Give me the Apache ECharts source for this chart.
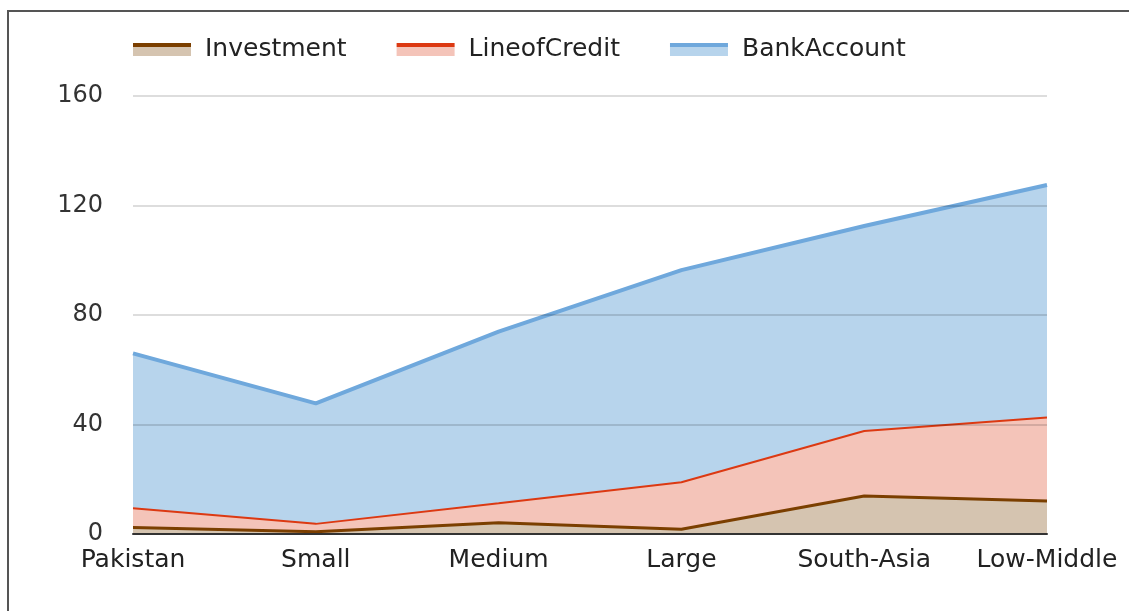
<!DOCTYPE html>
<html>
<head>
<meta charset="utf-8">
<script src="https://cdn.jsdelivr.net/npm/echarts@6/dist/echarts.min.js"></script>
<style>
  html, body { margin: 0; padding: 0; background: #fff; }
  #chart { width: 1129px; height: 611px; }
  /* frame visible at the top and left of the picture */
  .frame {
    position: absolute; left: 7px; top: 10px; width: 1200px; height: 700px;
    border-top: 2px solid #555; border-left: 2px solid #555; pointer-events: none;
  }
</style>
</head>
<body>
<div id="chart"></div>
<div class="frame"></div>
<script>
// categories and stacked values (each layer's own amount)
const categories = ['Pakistan', 'Small', 'Medium', 'Large', 'South-Asia', 'Low-Middle'];
const investment = [2.4, 0.8, 4.1, 1.7, 13.9, 12.1];
const lineOfCredit = [7.0, 2.9, 7.1, 17.2, 23.7, 30.5];
const bankAccount = [56.6, 44.0, 62.7, 77.5, 74.9, 84.9];
const yTicks = [0, 40, 80, 120, 160];

const lineColors = ['#7b3f00', '#dc3912', '#6fa8dc'];
const fillColors = ['#d5c4b0', '#f4c4b9', '#b7d4ec'];
const lineWidths = [3, 2, 4];
const names = ['Investment', 'LineofCredit', 'BankAccount'];
const values = [investment, lineOfCredit, bankAccount];

const font = 'DejaVu Sans, Arial';

const chart = echarts.init(document.getElementById('chart'));

function legendIcon(i) {
  // dark line on top, light fill below
  return new echarts.graphic.LinearGradient(0, 0, 0, 1, [
    { offset: 0, color: lineColors[i] },
    { offset: 0.3, color: lineColors[i] },
    { offset: 0.3, color: fillColors[i] },
    { offset: 1, color: fillColors[i] }
  ]);
}

chart.setOption({
  animation: false,
  legend: {
    top: 32,
    left: 128,
    icon: 'rect',
    itemWidth: 58,
    itemHeight: 13,
    itemGap: 50,
    textStyle: { fontFamily: font, fontSize: 25, color: '#222', padding: [0, 0, 2, 9] },
    data: names.map((n, i) => ({ name: n, itemStyle: { color: legendIcon(i) } }))
  },
  grid: { left: 133, right: 82, top: 96, bottom: 77 },
  xAxis: {
    type: 'category',
    data: categories,
    boundaryGap: false,
    z: 6,
    axisLine: { lineStyle: { color: '#333', width: 2 } },
    axisTick: { show: false },
    axisLabel: { interval: 0, hideOverlap: false, margin: 14, fontFamily: font, fontSize: 25, color: '#222' }
  },
  yAxis: {
    type: 'value',
    min: yTicks[0],
    max: yTicks[yTicks.length - 1],
    interval: 40,
    z: 5,
    axisLine: { show: false },
    axisTick: { show: false },
    axisLabel: { margin: 30, padding: [4, 0, 0, 0], fontFamily: font, fontSize: 24, color: '#333' },
    splitLine: { lineStyle: { color: 'rgba(0,0,0,0.18)', width: 1.5 } }
  },
  series: names.map((n, i) => ({
    name: n,
    type: 'line',
    stack: 'total',
    data: values[i],
    showSymbol: false,
    symbol: 'none',
    lineStyle: { color: lineColors[i], width: lineWidths[i] },
    itemStyle: { color: lineColors[i] },
    areaStyle: { color: fillColors[i], opacity: 1 },
    z: 3 - i
  }))
});
</script>
</body>
</html>
